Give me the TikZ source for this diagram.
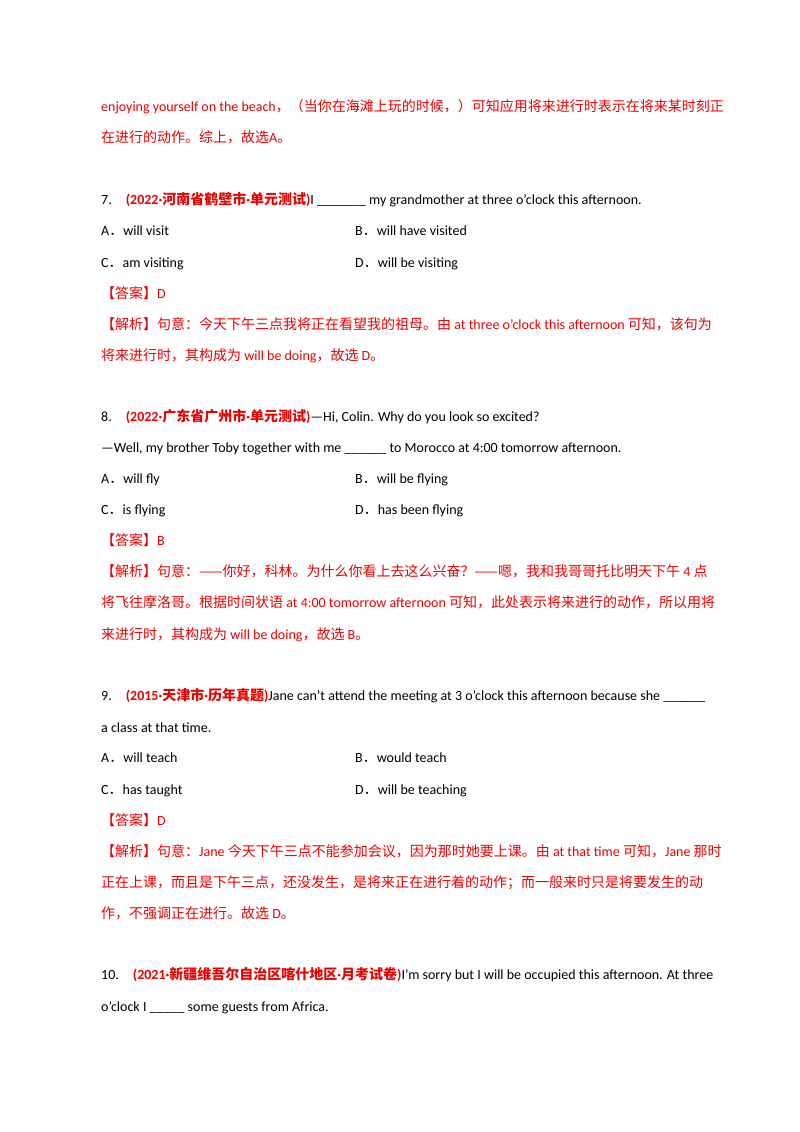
\documentclass[tikz,border=0pt]{standalone}
\usepackage{fontspec}
\setmainfont{Carlito}
\newfontfamily\cjk{Noto Sans CJK SC}
\newcommand\zh[1]{{\cjk #1}}
\definecolor{ans}{RGB}{235,0,0}
\begin{document}
\begin{tikzpicture}[x=1pt,y=-1pt,
  ln/.style={anchor=base west,inner sep=0pt,font=\fontsize{14}{16}\selectfont},
  rd/.style={ln,text=ans}]
\useasboundingbox[fill=white] (0,0) rectangle (800,1132);
\node[rd] (l1) at (101,111) {enjoying yourself on the beach\zh{，（当你在海滩上玩的时候，）可知应用将来进行时表示在将来某时刻正}};
\node[rd] (l2) at (101,142) {\zh{在进行的动作。综上，故选}A\zh{。}};
\node[ln] (q7) at (101,204) {7.\hspace{14pt}{\color{ans}\bfseries (2022·\zh{河南省鹤壁市}·\zh{单元测试})}I \_\_\_\_\_\_\_ my grandmother at three o'clock this afternoon.};
\node[ln] (a7) at (101,235) {A\zh{．}will visit};
\node[ln] (b7) at (355,235) {B\zh{．}will have visited};
\node[ln] (c7) at (101,267) {C\zh{．}am visiting};
\node[ln] (d7) at (355,267) {D\zh{．}will be visiting};
\node[rd] (k7) at (101,298) {\zh{【答案】}D};
\node[rd] (j7a) at (101,329) {\zh{【解析】句意：今天下午三点我将正在看望我的祖母。由} at three o'clock this afternoon \zh{可知，该句为}};
\node[rd] (j7b) at (101,360) {\zh{将来进行时，其构成为} will be doing\zh{，故选} D\zh{。}};
\node[ln] (q8) at (101,421) {8.\hspace{14pt}{\color{ans}\bfseries (2022·\zh{广东省广州市}·\zh{单元测试})}—Hi, Colin. Why do you look so excited?};
\node[ln] (q8b) at (101,452) {—Well, my brother Toby together with me \_\_\_\_\_\_ to Morocco at 4:00 tomorrow afternoon.};
\node[ln] (a8) at (101,483) {A\zh{．}will fly};
\node[ln] (b8) at (355,483) {B\zh{．}will be flying};
\node[ln] (c8) at (101,514) {C\zh{．}is flying};
\node[ln] (d8) at (355,514) {D\zh{．}has been flying};
\node[rd] (k8) at (101,545) {\zh{【答案】}B};
\node[rd] (j8a) at (101,576) {\zh{【解析】句意：——你好，科林。为什么你看上去这么兴奋？——嗯，我和我哥哥托比明天下午} 4 \zh{点}};
\node[rd] (j8b) at (101,607) {\zh{将飞往摩洛哥。根据时间状语} at 4:00 tomorrow afternoon \zh{可知，此处表示将来进行的动作，所以用将}};
\node[rd] (j8c) at (101,639) {\zh{来进行时，其构成为} will be doing\zh{，故选} B\zh{。}};
\node[ln] (q9) at (101,700) {9.\hspace{14pt}{\color{ans}\bfseries (2015·\zh{天津市}·\zh{历年真题})}Jane can't attend the meeting at 3 o'clock this afternoon because she \_\_\_\_\_\_};
\node[ln] (q9b) at (101,732) {a class at that time.};
\node[ln] (a9) at (101,762) {A\zh{．}will teach};
\node[ln] (b9) at (355,762) {B\zh{．}would teach};
\node[ln] (c9) at (101,794) {C\zh{．}has taught};
\node[ln] (d9) at (355,794) {D\zh{．}will be teaching};
\node[rd] (k9) at (101,825) {\zh{【答案】}D};
\node[rd] (j9a) at (101,856) {\zh{【解析】句意：}Jane \zh{今天下午三点不能参加会议，因为那时她要上课。由} at that time \zh{可知，}Jane \zh{那时}};
\node[rd] (j9b) at (101,887) {\zh{正在上课，而且是下午三点，还没发生，是将来正在进行着的动作；而一般来时只是将要发生的动}};
\node[rd] (j9c) at (101,918) {\zh{作，不强调正在进行。故选} D\zh{。}};
\node[ln] (q10) at (101,979) {10.\hspace{14pt}{\color{ans}\bfseries (2021·\zh{新疆维吾尔自治区喀什地区}·\zh{月考试卷})}I'm sorry but I will be occupied this afternoon. At three};
\node[ln] (q10b) at (101,1011) {o'clock I \_\_\_\_\_ some guests from Africa.};
\end{tikzpicture}
\end{document}
